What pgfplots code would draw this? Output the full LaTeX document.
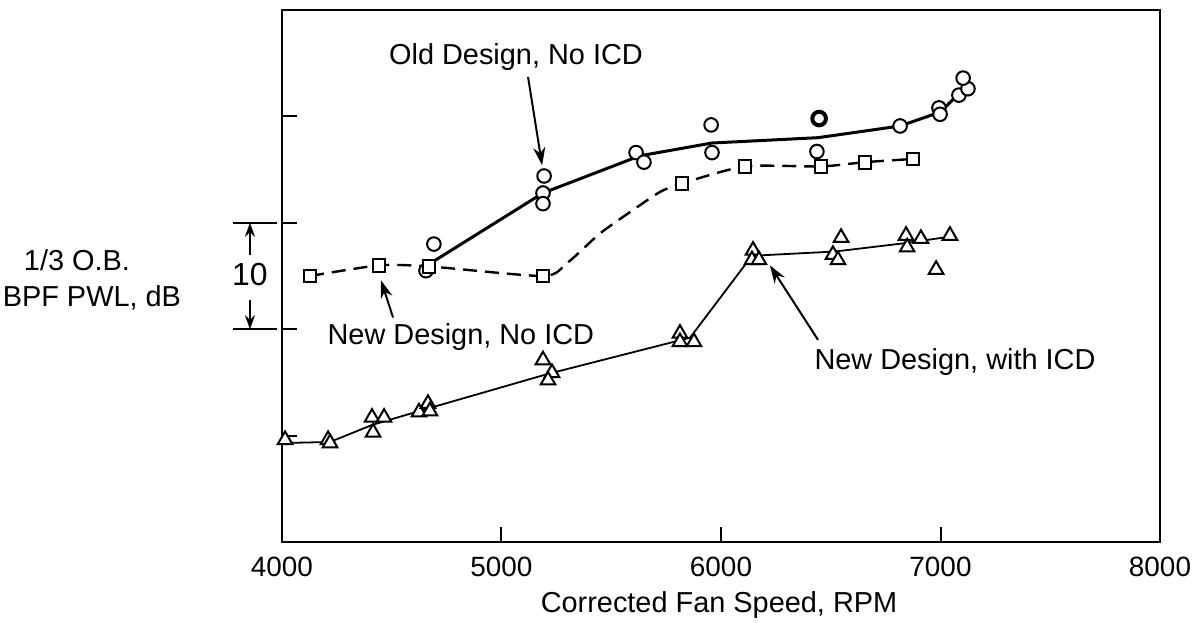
\documentclass[border=0pt]{standalone}
\usepackage{pgfplots}
\pgfplotsset{compat=1.18}
\usepackage{fontspec}
\setmainfont{Liberation Sans}
\usetikzlibrary{arrows.meta,calc}

% marker readings, RPM vs dB (relative)
\pgfplotstableread{
x y
4692 28.0
4656 25.5
5194 34.4
5189 32.8
5189 31.8
5613 36.6
5649 35.7
5955 39.2
5959 36.6
6437 36.7
6816 39.1
6993 40.8
6998 40.2
7084 42.0
7125 42.6
7103 43.6
}\olddesign

\pgfplotstableread{
x y
4128 25.0
4442 26.0
4670 25.9
5189 25.0
5822 33.7
6109 35.3
6456 35.3
6656 35.7
6875 36.0
}\newnoicd

\pgfplotstableread{
x y
4014 9.6
4210 9.6
4219 9.3
4410 11.7
4465 11.7
4415 10.3
4624 12.2
4665 13.0
4674 12.3
5189 17.1
5230 15.9
5212 15.2
5813 19.6
5813 18.8
5877 18.8
6146 27.4
6141 26.5
6173 26.5
6547 28.6
6510 27.0
6533 26.5
6843 28.8
6848 27.7
6911 28.5
7043 28.8
6980 25.6
}\newicd

\begin{document}
\begin{tikzpicture}
\begin{axis}[
  name=ax,
  width=439bp, height=266bp, scale only axis,
  xmin=4000, xmax=8000, ymin=0, ymax=50,
  xtick={4000,5000,6000,7000,8000},
  ytick={10,20,30,40}, yticklabels={},
  xtick pos=bottom, ytick pos=left,
  tick align=inside, major tick length=7.5bp,
  axis line style={line width=1bp},
  every tick/.style={black, line width=1bp},
  /pgf/number format/1000 sep={},
  /pgf/number format/assume math mode=true,
  xticklabel style={font=\fontsize{14}{16}\selectfont, yshift=-4bp},
  clip=false,
]
% faired curves
\addplot[line width=1.5bp] coordinates {
  (4700,26.5) (5189,32.8) (5631,36.3) (5959,37.5) (6442,38.0) (6816,39.1) (6998,40.4) (7103,42.5)};
\addplot[line width=1.2bp, dash pattern=on 7bp off 4bp, smooth, tension=0.4] coordinates {
  (4128,25.0) (4442,26.0) (4670,25.9) (5189,25.0) (5298,26.2) (5449,29.0) (5599,31.2) (5722,32.9) (5822,33.7) (6109,35.3) (6456,35.3) (6656,35.7) (6875,36.0)};
\addplot[line width=0.9bp] coordinates {
  (4000,9.3) (4219,9.4) (4410,11.0) (4674,12.6) (5212,15.8) (5859,19.2) (6141,26.9) (6519,27.3) (6843,28.1) (7043,28.7)};

% markers
\addplot[only marks, mark=*, mark size=3.4bp, mark options={fill=white, draw=black, line width=1bp}] table {\olddesign};
\addplot[only marks, mark=*, mark size=3.4bp, mark options={fill=white, draw=black, line width=2bp}] coordinates {(6447,39.8)};
\addplot[only marks, mark=square*, mark size=3.2bp, mark options={fill=white, draw=black, line width=1bp}] table {\newnoicd};
\addplot[only marks, mark=triangle*, mark size=4.2bp, mark options={fill=white, draw=black, line width=1bp}] table {\newicd};

% annotations
\node[anchor=base, font=\fontsize{14.5}{16}\selectfont] at (axis cs:5066,44.9) {Old Design, No ICD};
\draw[line width=1bp, -{Stealth[length=9bp,width=6bp]}] (axis cs:5121,43.7) -- (axis cs:5185,35.4);
\node[anchor=base, font=\fontsize{14.5}{16}\selectfont] at (axis cs:4815,18.6) {New Design, No ICD};
\draw[line width=1bp, -{Stealth[length=9bp,width=6bp]}] (axis cs:4506,21.1) -- (axis cs:4451,24.6);
\node[anchor=base, font=\fontsize{14.5}{16}\selectfont] at (axis cs:7066,16.2) {New Design, with ICD};
\draw[line width=1bp, -{Stealth[length=9bp,width=6bp]}] (axis cs:6442,19.0) -- (axis cs:6223,26.0);

% 10 dB scale bracket
\draw[line width=1bp] (axis cs:3777,30) -- (axis cs:3975,30);
\draw[line width=1bp] (axis cs:3777,20) -- (axis cs:3975,20);
\draw[line width=1bp, -{Stealth[length=7bp,width=5bp]}] (axis cs:3854,27.0) -- (axis cs:3854,30);
\draw[line width=1bp, -{Stealth[length=7bp,width=5bp]}] (axis cs:3854,22.7) -- (axis cs:3854,20);
\node[font=\fontsize{16}{18}\selectfont] at (axis cs:3854,25.1) {10};

% axis labels
\node[anchor=base, font=\fontsize{14.5}{16}\selectfont] at (axis cs:3066,25.56) {1/3 O.B.};
\node[anchor=base, font=\fontsize{14.5}{16}\selectfont] at (axis cs:3134,22.1) {BPF PWL, dB};
\node[anchor=base, font=\fontsize{14.5}{16}\selectfont] at (axis cs:5991,-6.6) {Corrected Fan Speed, RPM};
\end{axis}
\pgfresetboundingbox
\path ($(ax.south west)+(-141bp,-40.5bp)$) rectangle ($(ax.south west)+(456bp,271bp)$);
\end{tikzpicture}
\end{document}
